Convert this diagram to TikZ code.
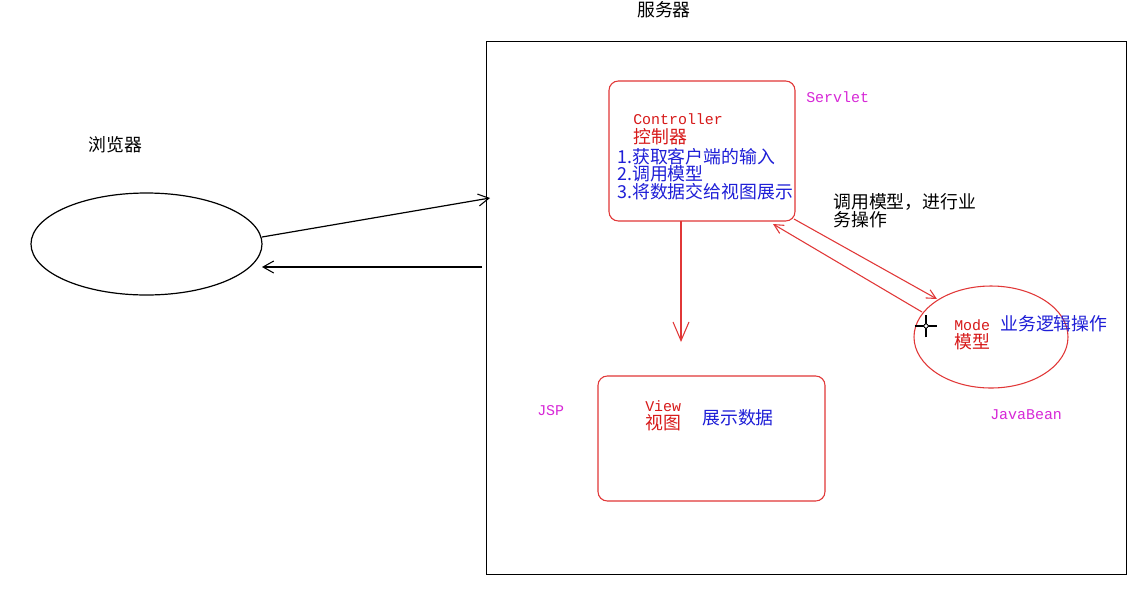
\documentclass[tikz,border=0pt]{standalone}
\usepackage{fontspec}
\usetikzlibrary{arrows.meta,shapes.geometric}
\newfontfamily\cjk{Noto Sans CJK SC}
\newfontfamily\mono{Liberation Mono}
\definecolor{lred}{RGB}{225,55,55}
\definecolor{tred}{RGB}{215,25,25}
\definecolor{tblue}{RGB}{30,30,215}
\definecolor{tmag}{RGB}{215,40,215}
\tikzset{
  cj/.style={inner sep=0pt, anchor=west, font=\cjk\fontsize{13.4}{16}\selectfont},
  mo/.style={inner sep=0pt, anchor=west, font=\mono\fontsize{11.2}{13}\selectfont},
  redbox/.style={draw=lred, line width=0.8pt, rounded corners=7pt, inner sep=0pt},
  blk/.style={draw=black, line width=0.9pt},
  barb/.style={-{Straight Barb[length=8pt,width=9pt,line width=0.8pt]}},
  bigbarb/.style={-{Straight Barb[length=14pt,width=12pt,line width=0.8pt]}},
  smallbarb/.style={-{Straight Barb[length=7pt,width=7pt,line width=0.8pt]}}
}
\begin{document}
\begin{tikzpicture}[x=0.75pt,y=-0.75pt]
\useasboundingbox[fill=white] (0,0) rectangle (1146,594);
\node[cj, anchor=center] (srvlabel) at (664,10) {服务器};
% server frame
\node (server) [blk, inner sep=0pt, minimum width=480pt, minimum height=399.75pt, anchor=north west] at (486,41) {};
% browser
\node (browser) [blk, ellipse, inner sep=0pt, minimum width=173.25pt, minimum height=76.5pt] at (146.5,244) {};
\node[cj] (brlabel) at (88,145) {浏览器};
\coordinate (b1) at (262,237);
\coordinate (s1) at (490,198);
\coordinate (s2) at (482,267);
\coordinate (b2) at (262,267);
\draw[blk, barb] (b1) -- (s1);
\draw[blk, barb] (s2) -- (b2);
% controller
\node (ctrl) [redbox, minimum width=139.5pt, minimum height=105pt] at (702,151) {};
\node[mo, text=tred] (c1) at (633,119) {Controller};
\node[cj, text=tred] (c2) at (633,137) {控制器};
\node[cj, text=tblue] (c3) at (617,157) {1.获取客户端的输入};
\node[cj, text=tblue] (c4) at (617,174) {2.调用模型};
\node[cj, text=tblue] (c5) at (617,192) {3.将数据交给视图展示};
\node[mo, text=tmag] (servlet) at (806,97) {Servlet};
% view
\node (view) [redbox, minimum width=170.25pt, minimum height=93.75pt] at (711.5,438.5) {};
\node[mo, text=tred] (v1) at (645,406) {View};
\node[cj, text=tred] (v2) at (645,423) {视图};
\node[cj, text=tblue] (v3) at (702,418) {展示数据};
\node[mo, text=tmag] (jsp) at (537,411) {JSP};
\coordinate (cdown) at (681,221);
\coordinate (vtop) at (681,342);
\draw[draw=lred, line width=0.8pt, bigbarb] (cdown) -- (vtop);
% model
\node (model) [draw=lred, line width=0.8pt, ellipse, inner sep=0pt, minimum width=115.5pt, minimum height=76.5pt] at (991,337) {};
\node[mo, text=tred] (m1) at (954,325) {Mode};
\node[cj, text=tred] (m2) at (954,342) {模型};
\node[cj, text=tblue] (m3) at (1000,324) {业务逻辑操作};
\node[mo, text=tmag] (jb) at (990,415) {JavaBean};
\coordinate (ca) at (794,219);
\coordinate (ma) at (937,299);
\coordinate (mb) at (922,312);
\coordinate (cb) at (773,224);
\draw[draw=lred, line width=0.8pt, smallbarb] (ca) -- (ma);
\draw[draw=lred, line width=0.8pt, smallbarb] (mb) -- (cb);
\node[cj] (op1) at (833,202) {调用模型，进行业};
\node[cj] (op2) at (833,220) {务操作};
% cursor
\coordinate (cur) at (926,326);
\draw[black, line width=1.2pt] ([xshift=-8.5pt]cur) -- ([xshift=8.5pt]cur);
\draw[black, line width=1.2pt] ([yshift=-8.5pt]cur) -- ([yshift=8.5pt]cur);
\draw[black, fill=white, line width=0.6pt] (cur) circle (1.6pt);
\end{tikzpicture}
\end{document}
